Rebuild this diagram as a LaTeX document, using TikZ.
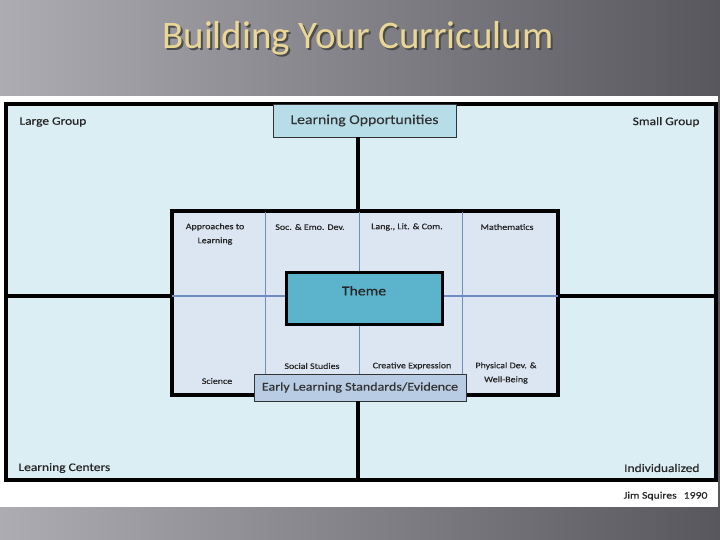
\documentclass[tikz,border=0pt]{standalone}
\usepackage{fontspec}
\setmainfont{Carlito}
\newfontfamily\slidefont{Carlito}[FakeStretch=1.17,FakeBold=0.5]
\definecolor{slateL}{HTML}{ADACB2}
\definecolor{slateR}{HTML}{58575D}
\definecolor{titletan}{HTML}{EAD796}
\definecolor{panelblue}{HTML}{DBEEF4}
\definecolor{corefill}{HTML}{DCE6F2}
\definecolor{gridblue}{HTML}{6D8EBF}
\definecolor{themefill}{HTML}{5BB3CC}
\definecolor{lofill}{HTML}{B7DEE8}
\definecolor{elsfill}{HTML}{B8CCE4}

\begin{document}
\begin{tikzpicture}[x=1pt,y=1pt,yscale=-1,
  heavy/.style={line width=3.2pt},
  thin grid/.style={draw=gridblue,line width=0.7pt},
  cell/.style={font=\slidefont\fontsize{8.5}{14}\selectfont,align=center,text=black!85},
  corner/.style={font=\slidefont\fontsize{11.5}{13}\selectfont,text=black!85},
  banner/.style={draw=black!80,line width=0.8pt,font=\slidefont\fontsize{13.5}{16}\selectfont,text=black!80}]
\useasboundingbox (0,0) rectangle (720,540);

%Shape: background
\fill[left color=slateL,right color=slateR] (0,0) rectangle (720,540);
% Text Node: title with shadow
\node[font=\fontsize{39}{42}\selectfont,text=black!70] at (360,40) {Building Your Curriculum};
\node[font=\fontsize{39}{42}\selectfont,text=titletan] (title) at (358,38) {Building Your Curriculum};
%Shape: white sheet
\fill[white] (0,96) rectangle (718,507);

%Shape: outer frame
\draw[heavy,line width=3.8pt,fill=panelblue] (6,104) rectangle (716,480);
\coordinate (fl) at (6,296);
\coordinate (fr) at (716,296);
\coordinate (fb) at (358,480);

%Shape: inner box
\draw[heavy,line width=3.8pt,fill=corefill] (172,211) rectangle (558,395);
\coordinate (ct) at (358,211);
\coordinate (cb) at (358,395);
\coordinate (cl) at (172,296);
\coordinate (cr) at (558,296);

%Straight Lines: inner grid
\foreach \gx in {265,359,462}
  \draw[thin grid] (\gx,212) -- (\gx,394);
\draw[thin grid,line width=1.4pt] (cl) -- (cr);

%Straight Lines: quadrant dividers
\draw[heavy] (fl) -- (cl);
\draw[heavy] (cr) -- (fr);

% Text Node: banners
\node[banner,fill=lofill,minimum width=183,minimum height=33] (lo) at (364.5,120.5) {Learning Opportunities};
\node[banner,fill=elsfill,minimum width=212,minimum height=27,font=\slidefont\fontsize{12}{15}\selectfont] (els) at (360,387.5) {Early Learning Standards/Evidence};
\draw[heavy] (lo.south -| ct) -- (ct);
\draw[heavy] (els.south -| cb) -- (fb);

% Text Node: theme
\node[draw,line width=3pt,fill=themefill,minimum width=156,minimum height=52,
  label={[font=\slidefont\fontsize{13.5}{15}\selectfont,text=black!85,anchor=north,yshift=-12pt]north:Theme}] (theme) at (364,298) {};

% Text Node: corners
\node[corner,anchor=west] (large) at (16,122) {Large Group};
\node[corner,anchor=east] (small) at (703,122) {Small Group};
\node[corner,anchor=west] (centers) at (15,468) {Learning Centers};
\node[corner,anchor=east] (indiv) at (703,468) {Individualized};
\node[font=\slidefont\fontsize{10}{11}\selectfont,anchor=east,text=black!85] (credit) at (711,496) {Jim Squires\hspace{7pt}1990};

% Text Node: domains
\node[cell] (approaches) at (215,234) {Approaches to\\Learning};
\node[cell] (socemo) at (310,227) {Soc. \& Emo. Dev.};
\node[cell] (langlit) at (407,227) {Lang., Lit. \& Com.};
\node[cell] (math) at (507,227) {Mathematics};
\node[cell] (science) at (217,381) {Science};
\node[cell] (socstud) at (312,366) {Social Studies};
\node[cell] (creative) at (412,366) {Creative Expression};
\node[cell] (physical) at (506,373) {Physical Dev. \&\\Well-Being};

\end{tikzpicture}
\end{document}
